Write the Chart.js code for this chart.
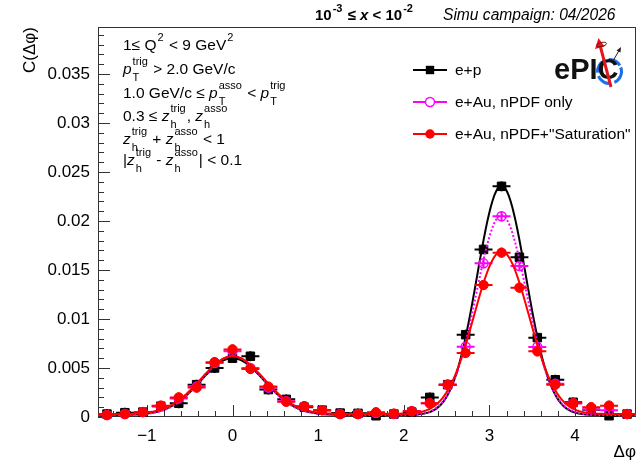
<!DOCTYPE html>
<html>
<head>
<meta charset="utf-8">
<script src="https://cdn.jsdelivr.net/npm/chart.js@4/dist/chart.umd.min.js"></script>
<style>
  html, body { margin: 0; padding: 0; background: #fff; }
  #wrap { width: 643px; height: 465px; }
</style>
</head>
<body>
<div id="wrap"><canvas id="c" width="643" height="465"></canvas></div>
<script>
const FF = '"Liberation Sans", Arial, Helvetica, sans-serif';

// Δφ bin centres: 30 bins spanning -π/2 … 3π/2
const dphi = [-1.466, -1.257, -1.047, -0.838, -0.628, -0.419, -0.209, 0.000, 0.209, 0.419,
              0.628, 0.838, 1.047, 1.257, 1.466, 1.676, 1.885, 2.094, 2.304, 2.513,
              2.723, 2.932, 3.142, 3.351, 3.560, 3.770, 3.979, 4.189, 4.398, 4.608];
const binHalfWidth = Math.PI / 30;

// correlation function C(Δφ) per collision system
const corrEP = [0.00030, 0.00044, 0.00050, 0.00110, 0.00140, 0.00330, 0.00500, 0.00600, 0.00620, 0.00280,
                0.00180, 0.00100, 0.00070, 0.00040, 0.00037, 0.00013, 0.00030, 0.00050, 0.00200, 0.00330,
                0.00840, 0.01710, 0.02354, 0.01630, 0.00810, 0.00380, 0.00150, 0.00075, 0.00013, 0.00030];
const corrAuNPDF = [0.00020, 0.00030, 0.00050, 0.00110, 0.00190, 0.00310, 0.00550, 0.00670, 0.00500, 0.00300,
                    0.00160, 0.00110, 0.00070, 0.00030, 0.00030, 0.00040, 0.00030, 0.00060, 0.00140, 0.00330,
                    0.00718, 0.01568, 0.02048, 0.01541, 0.00715, 0.00340, 0.00140, 0.00080, 0.00070, 0.00030];
const corrAuSat = [0.00020, 0.00030, 0.00050, 0.00116, 0.00200, 0.00300, 0.00560, 0.00690, 0.00490, 0.00310,
                   0.00156, 0.00110, 0.00070, 0.00030, 0.00030, 0.00048, 0.00034, 0.00058, 0.00140, 0.00330,
                   0.00653, 0.01347, 0.01677, 0.01320, 0.00670, 0.00330, 0.00140, 0.00100, 0.00116, 0.00030];

// statistical uncertainty per series
const errEP = 0.0005, errAuNPDF = 0.0005, errAuSat = 0.0005;

// fit parameters: [near amplitude, near sigma, away amplitude, away sigma, pedestal]
const fitEP      = [0.0058, 0.37, 0.0234, 0.285, 0.0002];
const fitAuNPDF  = [0.0060, 0.36, 0.0204, 0.295, 0.0002];
const fitAuSat   = [0.0059, 0.37, 0.0166, 0.320, 0.0003];

const seriesNames = ['e+p', 'e+Au, nPDF only', 'e+Au, nPDF+"Saturation"'];

const xTickValues = [-1, 0, 1, 2, 3, 4];
const xTickLabels = ['\u22121', '0', '1', '2', '3', '4'];
const yTickValues = [0, 0.005, 0.01, 0.015, 0.02, 0.025, 0.03, 0.035];
const yTickLabels = ['0', '0.005', '0.01', '0.015', '0.02', '0.025', '0.03', '0.035'];

const X_MIN = -Math.PI / 2, X_MAX = 1.5 * Math.PI;
const Y_MIN = 0, Y_MAX = 0.0398;

// near-side + away-side Gaussian on a flat pedestal
function fitFunc(p, x) {
  const g = (a, mu, s) => a * Math.exp(-0.5 * ((x - mu) / s) ** 2);
  return g(p[0], 0, p[1]) + g(p[2], Math.PI, p[3]) + p[4];
}
function fitCurve(p) {
  const out = [];
  const n = 300;
  for (let i = 0; i <= n; i++) {
    const x = X_MIN + (X_MAX - X_MIN) * i / n;
    out.push({ x, y: fitFunc(p, x) });
  }
  return out;
}
const points = arr => dphi.map((x, i) => ({ x, y: arr[i] }));

const BLACK = '#000000', MAGENTA = '#ff00ff', RED = '#ff0000';

// draws error crosses under each marker set, plus frame, ticks and text
const rootStyle = {
  id: 'rootStyle',
  beforeDatasetsDraw(chart) {
    const { ctx, chartArea: a, scales: { x: xs, y: ys } } = chart;
    ctx.save();
    ctx.strokeStyle = '#333';
    ctx.lineWidth = 1;
    ctx.strokeRect(a.left + 0.5, a.top + 0.5, a.right - a.left - 1, a.bottom - a.top - 1);
    ctx.beginPath();
    // x ticks: major every 1, minor every 0.2
    for (let k = -8; k <= 24; k++) {
      const v = k * 0.2;
      if (v < X_MIN || v > X_MAX) continue;
      const px = Math.round(xs.getPixelForValue(v)) + 0.5;
      const len = (k % 5 === 0) ? 12 : 6;
      ctx.moveTo(px, a.bottom);
      ctx.lineTo(px, a.bottom - len);
    }
    // y ticks: major every 0.005, minor every 0.001
    for (let k = 0; k <= 39; k++) {
      const v = k * 0.001;
      if (v > Y_MAX) continue;
      const py = Math.round(ys.getPixelForValue(v)) + 0.5;
      const len = (k % 5 === 0) ? 12 : 6;
      ctx.moveTo(a.left, py);
      ctx.lineTo(a.left + len, py);
    }
    ctx.stroke();
    ctx.restore();
  },
  beforeDatasetDraw(chart, args) {
    const ds = chart.data.datasets[args.index];
    if (ds.yErr === undefined) return;
    const { ctx, scales: { x: xs, y: ys } } = chart;
    ctx.save();
    ctx.strokeStyle = ds.errColor;
    ctx.lineWidth = 2;
    ctx.beginPath();
    ds.data.forEach(p => {
      const px = xs.getPixelForValue(p.x), py = ys.getPixelForValue(p.y);
      const x0 = xs.getPixelForValue(Math.max(X_MIN, p.x - binHalfWidth));
      const x1 = xs.getPixelForValue(Math.min(X_MAX, p.x + binHalfWidth));
      const y0 = ys.getPixelForValue(Math.max(Y_MIN, p.y - ds.yErr));
      const y1 = ys.getPixelForValue(p.y + ds.yErr);
      ctx.moveTo(x0, py); ctx.lineTo(x1, py);
      ctx.moveTo(px, y0); ctx.lineTo(px, y1);
    });
    ctx.stroke();
    ctx.restore();
  },
  afterDraw(chart) {
    const ctx = chart.ctx;
    const a = chart.chartArea;
    ctx.save();
    ctx.fillStyle = '#000';

    // axis titles
    ctx.font = `17px ${FF}`;
    ctx.textBaseline = 'alphabetic';
    ctx.textAlign = 'right';
    ctx.fillText('\u0394\u03c6', a.right, 457);
    ctx.save();
    ctx.translate(35, a.top);
    ctx.rotate(-Math.PI / 2);
    ctx.textAlign = 'right';
    ctx.fillText('C(\u0394\u03c6)', 0, 0);
    ctx.restore();
    ctx.textAlign = 'left';

    // header
    rich(ctx, 315, 20, 15, [
      { s: '10', b: true }, { sup: '-3', b: true }, { s: ' \u2264 ', b: true }, { s: 'x', b: true, it: true },
      { s: ' < 10', b: true }, { sup: '-2', b: true }
    ]);
    ctx.font = `italic 15.6px ${FF}`;
    ctx.fillText('Simu campaign: 04/2026', 443, 20);

    // kinematic selection
    const z = [{ s: 'z', it: true }];
    const p = [{ s: 'p', it: true }];
    const fs = 15.5;
    rich(ctx, 123, 50, fs, [{ s: '1\u2264 Q' }, { sup: '2' }, { s: ' < 9 GeV' }, { sup: '2' }]);
    rich(ctx, 123, 74, fs, [...p, { sub: 'T', sup: 'trig' }, { s: ' > 2.0 GeV/c' }]);
    rich(ctx, 123, 98, fs, [{ s: '1.0 GeV/c \u2264 ' }, ...p, { sub: 'T', sup: 'asso' }, { s: ' < ' }, ...p, { sub: 'T', sup: 'trig' }]);
    rich(ctx, 123, 121, fs, [{ s: '0.3 \u2264 ' }, ...z, { sub: 'h', sup: 'trig' }, { s: ', ' }, ...z, { sub: 'h', sup: 'asso' }]);
    rich(ctx, 123, 144, fs, [...z, { sub: 'h', sup: 'trig' }, { s: ' + ' }, ...z, { sub: 'h', sup: 'asso' }, { s: ' < 1' }]);
    rich(ctx, 123, 165, fs, [{ s: '|' }, ...z, { sub: 'h', sup: 'trig' }, { s: ' - ' }, ...z, { sub: 'h', sup: 'asso' }, { s: '| < 0.1' }]);

    // legend
    const legendRows = [70, 102, 134];
    const legendStyles = [
      { color: BLACK, marker: 'rect' },
      { color: MAGENTA, marker: 'open' },
      { color: RED, marker: 'dot' }
    ];
    legendRows.forEach((y, i) => {
      const st = legendStyles[i];
      ctx.strokeStyle = st.color;
      ctx.lineWidth = 2;
      ctx.beginPath(); ctx.moveTo(413, y); ctx.lineTo(447, y); ctx.stroke();
      ctx.fillStyle = st.color;
      if (st.marker === 'rect') {
        ctx.fillRect(430 - 4.2, y - 4.2, 8.4, 8.4);
      } else if (st.marker === 'dot') {
        ctx.beginPath(); ctx.arc(430, y, 4.7, 0, Math.PI * 2); ctx.fill();
      } else {
        ctx.fillStyle = '#fff';
        ctx.lineWidth = 1.5;
        ctx.beginPath(); ctx.arc(430, y, 4.5, 0, Math.PI * 2); ctx.fill(); ctx.stroke();
      }
      ctx.fillStyle = '#000';
      ctx.font = `15.5px ${FF}`;
      ctx.textBaseline = 'middle';
      ctx.fillText(seriesNames[i], 455, y + 1);
      ctx.textBaseline = 'alphabetic';
    });

    drawLogo(ctx);
    ctx.restore();
  }
};

// text with stacked super/subscripts
function rich(ctx, x, y, size, parts) {
  let cx = x;
  const small = Math.round(size * 0.7);
  for (const part of parts) {
    const w = (part.b ? 'bold ' : '');
    if (part.s !== undefined) {
      ctx.font = `${part.it ? 'italic ' : ''}${w}${size}px ${FF}`;
      ctx.fillText(part.s, cx, y);
      cx += ctx.measureText(part.s).width;
    } else {
      ctx.font = `${w}${small}px ${FF}`;
      let adv = 0;
      if (part.sup) {
        ctx.fillText(part.sup, cx + 1, y - size * 0.55);
        adv = Math.max(adv, ctx.measureText(part.sup).width);
      }
      if (part.sub) {
        ctx.fillText(part.sub, cx + 1, y + size * 0.45);
        adv = Math.max(adv, ctx.measureText(part.sub).width);
      }
      cx += adv + 2;
    }
  }
}

// experiment wordmark
function drawLogo(ctx) {
  ctx.save();
  const cx = 609.5, cy = 71.5, r = 12;
  ctx.strokeStyle = '#1f6fe6';
  ctx.lineWidth = 3;
  [[-0.35, 1.15], [1.45, 2.75], [3.05, 4.3], [4.65, 5.75]].forEach(s => {
    ctx.beginPath(); ctx.arc(cx, cy, r, s[0], s[1]); ctx.stroke();
  });
  ctx.fillStyle = '#111';
  ctx.font = `bold 29px ${FF}`;
  ctx.textAlign = 'left';
  ctx.textBaseline = 'alphabetic';
  ctx.fillText('ePIC', 554, 79);
  // beam arrow
  ctx.strokeStyle = '#e8141b';
  ctx.fillStyle = '#e8141b';
  ctx.lineWidth = 3;
  ctx.beginPath(); ctx.moveTo(611, 87); ctx.lineTo(600.5, 47); ctx.stroke();
  ctx.beginPath(); ctx.moveTo(598.5, 38); ctx.lineTo(595, 49); ctx.lineTo(604.5, 46.5); ctx.closePath(); ctx.fill();
  // spin ellipse
  ctx.strokeStyle = '#7a1010';
  ctx.lineWidth = 1;
  ctx.beginPath(); ctx.ellipse(601.5, 44.5, 5, 2, -0.2, 0, Math.PI * 2); ctx.stroke();
  // scattered particle
  ctx.strokeStyle = '#222';
  ctx.fillStyle = '#222';
  ctx.beginPath(); ctx.moveTo(613, 61); ctx.lineTo(619, 50.5); ctx.stroke();
  ctx.beginPath(); ctx.moveTo(621, 47); ctx.lineTo(616.5, 50.5); ctx.lineTo(620.5, 52.5); ctx.closePath(); ctx.fill();
  ctx.restore();
}

const pointSet = (arr, err, color, style, radius, fill, order) => ({
  data: points(arr), showLine: false, pointStyle: style, pointRadius: radius,
  pointBackgroundColor: fill, pointBorderColor: color, pointBorderWidth: style === 'circle' && fill === 'rgba(0,0,0,0)' ? 1.5 : 1,
  yErr: err, errColor: color, clip: false, order
});
const curveSet = (par, color, dash, order) => ({
  data: fitCurve(par), showLine: true, pointRadius: 0, borderColor: color, borderWidth: 2,
  borderDash: dash, fill: false, tension: 0, order
});

new Chart(document.getElementById('c'), {
  type: 'scatter',
  data: {
    datasets: [
      pointSet(corrAuSat, errAuSat, RED, 'circle', 4.7, RED, 0),
      curveSet(fitAuSat, RED, [], 1),
      pointSet(corrAuNPDF, errAuNPDF, MAGENTA, 'circle', 4.5, 'rgba(0,0,0,0)', 2),
      curveSet(fitAuNPDF, MAGENTA, [2, 2], 3),
      pointSet(corrEP, errEP, BLACK, 'rect', 6, BLACK, 4),
      curveSet(fitEP, BLACK, [], 5)
    ]
  },
  options: {
    responsive: false,
    animation: false,
    events: [],
    layout: { padding: { top: 27, right: 3, left: 0, bottom: 0 } },
    plugins: { legend: { display: false }, tooltip: { enabled: false } },
    scales: {
      x: {
        type: 'linear', min: X_MIN, max: X_MAX,
        grid: { display: false, drawTicks: false },
        border: { display: false },
        afterBuildTicks: s => { s.ticks = xTickValues.map(v => ({ value: v })); },
        afterFit: s => { s.height = 48; },
        ticks: {
          callback: (v, i) => xTickLabels[i],
          font: { family: FF, size: 17 }, color: '#000', padding: 9,
          maxRotation: 0, minRotation: 0, autoSkip: false
        }
      },
      y: {
        type: 'linear', min: Y_MIN, max: Y_MAX,
        grid: { display: false, drawTicks: false },
        border: { display: false },
        afterBuildTicks: s => { s.ticks = yTickValues.map(v => ({ value: v })); },
        afterFit: s => { s.width = 98; },
        ticks: {
          callback: (v, i) => yTickLabels[i],
          font: { family: FF, size: 17 }, color: '#000', padding: 8, autoSkip: false
        }
      }
    }
  },
  plugins: [rootStyle]
});
</script>
</body>
</html>
